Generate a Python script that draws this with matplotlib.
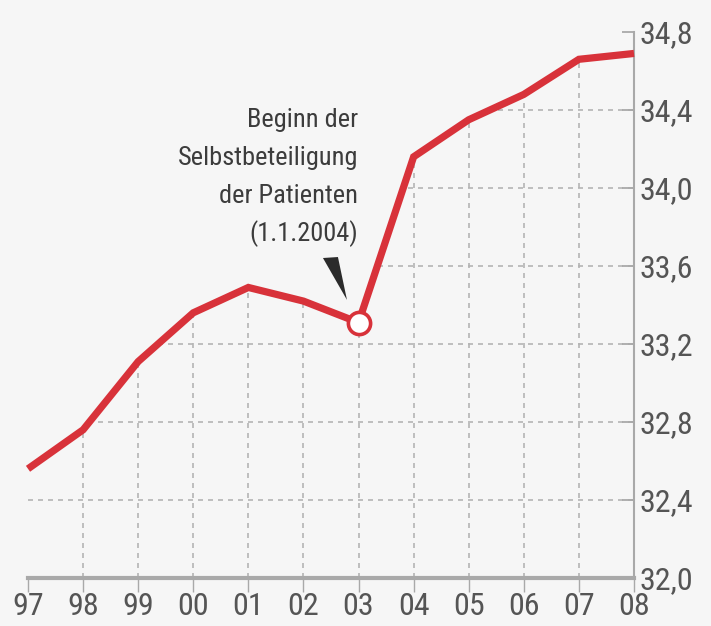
import matplotlib
matplotlib.use("Agg")
import matplotlib.pyplot as plt
from matplotlib.patches import Polygon
from matplotlib import font_manager

# ---- data ----
years = ["97", "98", "99", "00", "01", "02", "03", "04", "05", "06", "07", "08"]
values = [32.56, 32.76, 33.11, 33.36, 33.49, 33.42, 33.31, 34.16, 34.35, 34.48, 34.66, 34.69]
yticks = [32.0, 32.4, 32.8, 33.2, 33.6, 34.0, 34.4, 34.8]
annot_lines = ["Beginn der", "Selbstbeteiligung", "der Patienten", "(1.1.2004)"]
highlight_idx = 6

# ---- font choice ----
avail = {f.name for f in font_manager.fontManager.ttflist}
narrow = None
for cand in ["Liberation Sans Narrow", "Roboto Condensed", "Open Sans Condensed", "DejaVu Sans"]:
    if cand in avail:
        narrow = cand
        break
plt.rcParams['font.family'] = [narrow, 'DejaVu Sans']

bg = '#f6f6f6'
red = '#d8323a'
gray = '#a9a9a9'
txt = '#555555'

fig = plt.figure(figsize=(7.11, 6.26), dpi=100, facecolor=bg)
ax = fig.add_axes([28/711, 48/626, 606/711, 546/626])
ax.set_facecolor(bg)

x = list(range(len(years)))
ax.set_xlim(0, len(years) - 1)
ax.set_ylim(32.0, 34.8)

# clip region: area under the curve
verts = [(0, 32.0)] + list(zip(x, values)) + [(x[-1], 32.0)]
clip = Polygon(verts, closed=True, facecolor='none', edgecolor='none', transform=ax.transData)
ax.add_patch(clip)

for yv in yticks[1:-1]:
    gl = ax.axhline(yv, color='#b5b5b5', lw=1.2, ls=(0, (3, 3)), zorder=1)
    gl.set_clip_path(clip)
for xv in x[1:-1]:
    gl = ax.axvline(xv, color='#b5b5b5', lw=1.2, ls=(0, (3, 3)), zorder=1)
    gl.set_clip_path(clip)

ax.plot(x, values, color=red, lw=5.2, solid_joinstyle='miter', solid_capstyle='butt', zorder=3, clip_on=False)
ax.plot([x[highlight_idx]], [values[highlight_idx]], marker='o', ms=16, mfc='white', mec=red, mew=2.6,
        zorder=4, clip_on=False)

# pointer triangle
tri = Polygon([(5.354, 33.641), (5.626, 33.646), (5.79, 33.426)], closed=True,
              facecolor='#2b2b2b', edgecolor='none', zorder=4)
ax.add_patch(tri)

# annotation text
ys_px = [120, 158, 196, 234]
for line, ypx in zip(annot_lines, ys_px):
    yv = 32.0 + (578 - ypx) / 195.0
    ax.text(5.99, yv, line, ha='right', va='center', fontsize=19, color='#3c3c3c', zorder=5)

# spines
for s in ['left', 'top']:
    ax.spines[s].set_visible(False)
ax.spines['bottom'].set_color(gray)
ax.spines['bottom'].set_linewidth(3)
ax.spines['right'].set_color(gray)
ax.spines['right'].set_linewidth(1.5)

ax.set_xticks(x)
ax.set_xticklabels(years)
ax.tick_params(axis='x', direction='out', length=10, width=1, color=gray, labelsize=23,
               labelcolor=txt, pad=0)

ax.yaxis.tick_right()
ax.set_yticks(yticks)
ax.set_yticklabels([f"{v:.1f}".replace('.', ',') for v in yticks])
ax.tick_params(axis='y', direction='in', length=9, width=1.3, color=gray, labelsize=23,
               labelcolor=txt, pad=4)

fig.savefig('out.png', dpi=100, facecolor=bg)
